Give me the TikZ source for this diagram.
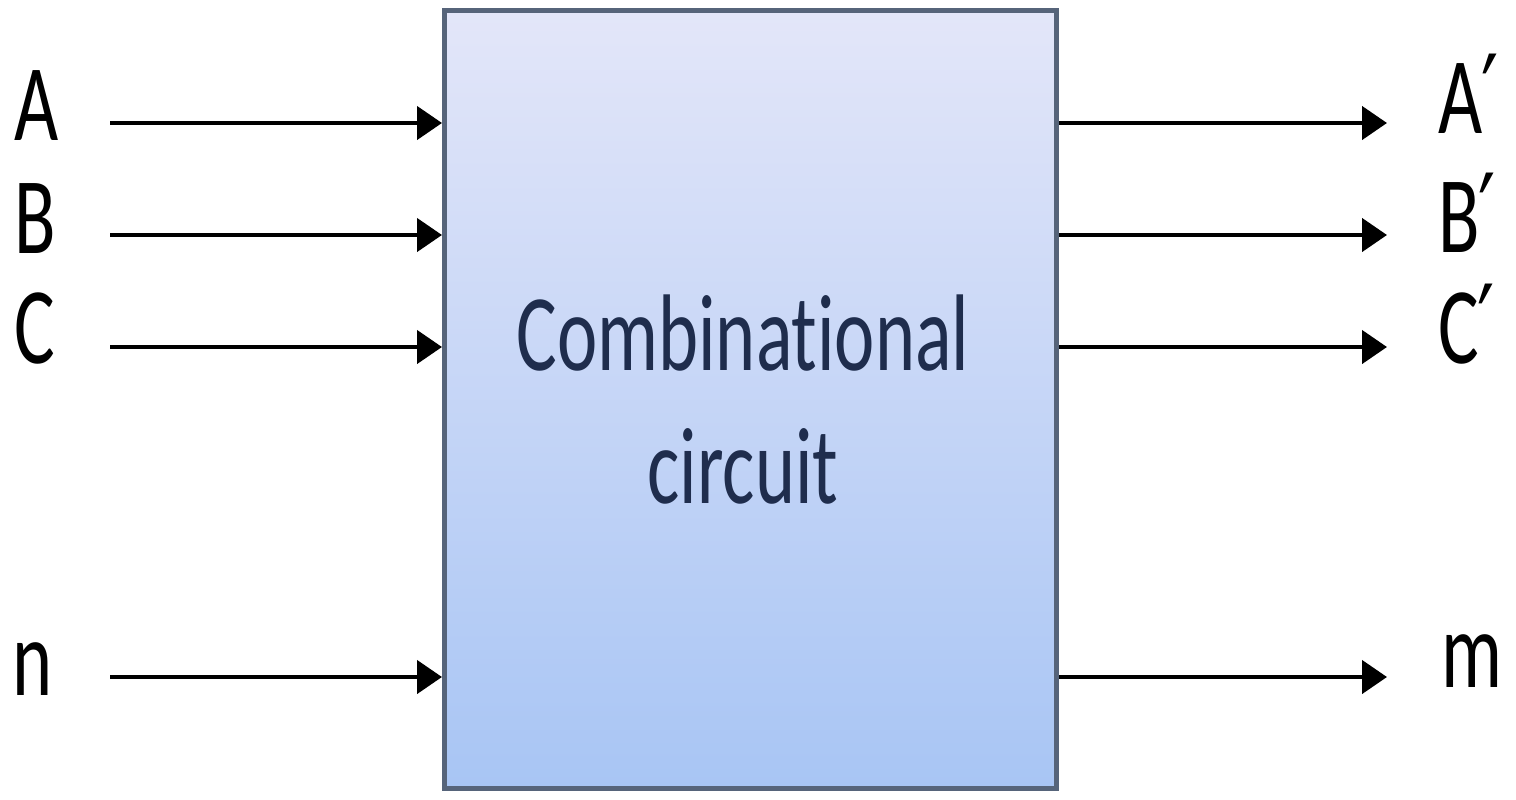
\documentclass[tikz,border=0pt]{standalone}
\usepackage{fontspec}
\setmainfont{Carlito}[RawFeature=-liga]
\newfontfamily\primefont{DejaVu Sans}
\usetikzlibrary{arrows.meta}
\definecolor{boxtop}{HTML}{E3E6F9}
\definecolor{boxbottom}{HTML}{A8C5F4}
\definecolor{boxedge}{HTML}{56647A}
\definecolor{boxtext}{HTML}{1F2D4D}
% glyphs are set narrower than their natural width
\newcommand\squeezed[1]{\scalebox{0.7}[1]{#1}}
\newcommand\pr{{\primefont\kern-0.02em′}}
\begin{document}
\begin{tikzpicture}[x=0.5pt,y=-0.5pt,
  signal/.style={line width=2.25pt,-{Triangle[length=12.5pt,width=16.5pt]}},
  lbl/.style={anchor=base west,inner sep=0pt,font=\fontsize{54.5pt}{66pt}\selectfont},
  inner/.style={anchor=base,inner sep=0pt,text=boxtext,font=\fontsize{54.5pt}{66pt}\selectfont},
  block/.style={rectangle,draw=boxedge,line width=2.5pt,shading=axis,
    top color=boxtop,bottom color=boxbottom,minimum width=306pt,minimum height=389pt,inner sep=0pt}]
\useasboundingbox (0,0) rectangle (1516,799);
\fill[white] (0,0) rectangle (1516,799);

% the circuit block
\node[block] (box) at (750.5,399.5) {};
\node[inner] (t1) at (743,370) {\squeezed{Combinational}};
\node[inner] (t2) at (743,503) {\squeezed{circuit}};

% input labels
\node[lbl] (lA) at (14,140) {\squeezed{A}};
\node[lbl] (lB) at (14,253) {\squeezed{B}};
\node[lbl] (lC) at (14,363) {\squeezed{C}};
\node[lbl] (ln) at (12,695) {\squeezed{n}};

% output labels
\node[lbl] (oA) at (1438,133) {\squeezed{A\pr}};
\node[lbl] (oB) at (1438,252) {\squeezed{B\pr}};
\node[lbl] (oC) at (1438,363) {\squeezed{C\pr}};
\node[lbl] (om) at (1441,687) {\squeezed{m}};

% free ends of the signal lines
\coordinate (iA) at (110,123);
\coordinate (iB) at (110,235);
\coordinate (iC) at (110,347);
\coordinate (in) at (110,677);
\coordinate (eA) at (1387,123);
\coordinate (eB) at (1387,235);
\coordinate (eC) at (1387,347);
\coordinate (em) at (1387,677);

% inputs
\foreach \p in {iA,iB,iC,in}
  \draw[signal] (\p) -- (\p -| box.west);
% outputs
\foreach \p in {eA,eB,eC,em}
  \draw[signal] (\p -| box.east) -- (\p);
\end{tikzpicture}
\end{document}
